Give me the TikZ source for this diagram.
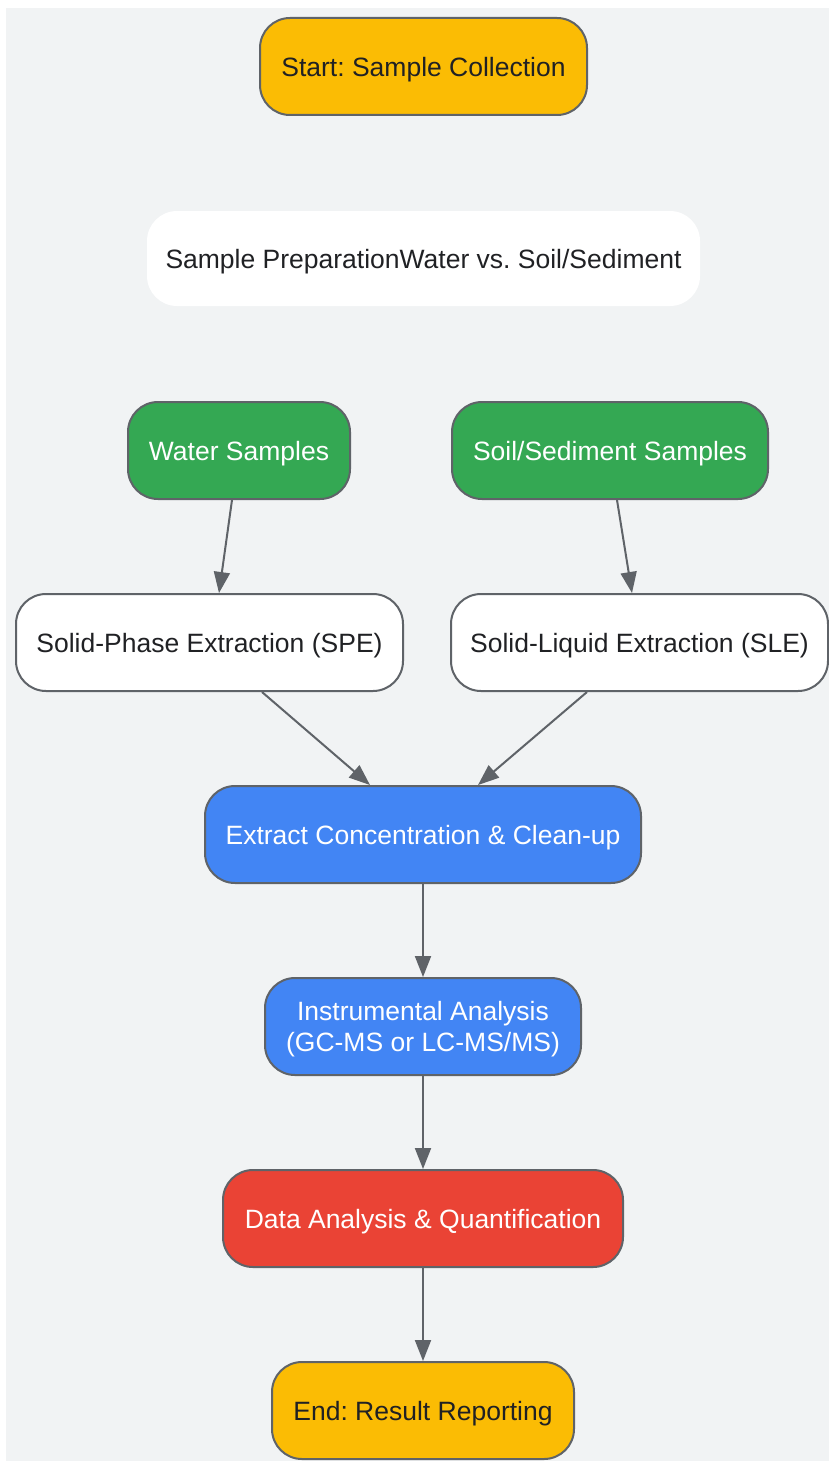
\documentclass[tikz,border=0pt]{standalone}
\usepackage{fontspec}
\setmainfont{Liberation Sans}
\usetikzlibrary{arrows.meta}
\definecolor{bgc}{HTML}{F1F3F4}
\definecolor{edgec}{HTML}{5F6368}
\definecolor{txtc}{HTML}{202124}
\definecolor{yel}{HTML}{FBBC04}
\definecolor{grn}{HTML}{34A853}
\definecolor{blu}{HTML}{4285F4}
\definecolor{redc}{HTML}{EA4335}
\frenchspacing
\tikzset{
  box/.style={rectangle, rounded corners=30pt, draw=edgec, line width=2pt, inner sep=0pt,
    minimum height=97pt, align=center, font=\fontsize{26.5}{31}\selectfont, text=txtc,
    text depth=0pt},
  startend/.style={box, fill=yel},
  plainbox/.style={box, fill=white},
  greenbox/.style={box, fill=grn, text=white},
  bluebox/.style={box, fill=blu, text=white},
  redbox/.style={box, fill=redc, text=white},
  conn/.style={draw=edgec, line width=2pt, -{Triangle[length=21pt,width=16pt]}}
}
\begin{document}
\begin{tikzpicture}[x=1pt,y=-1pt]
\useasboundingbox (0,0) rectangle (829,1461);
\fill[bgc] (6,8) rectangle (829,1461);
\node[startend, minimum width=327pt] (start) at (423.5,66.5) {Start: Sample Collection};
\node[plainbox, draw=none, minimum width=553pt, minimum height=95pt] (prep) at (423.5,258.5) {Sample PreparationWater vs. Soil/Sediment};
\node[greenbox, minimum width=222pt] (water) at (239,450.5) {Water Samples};
\node[greenbox, minimum width=316pt] (soil) at (610,450.5) {Soil/Sediment Samples};
\node[plainbox, minimum width=387pt] (spe) at (209.5,642.5) {Solid-Phase Extraction (SPE)};
\node[plainbox, minimum width=377pt] (sle) at (639.5,642.5) {Solid-Liquid Extraction (SLE)};
\node[bluebox, minimum width=436pt] (extract) at (423,834.5) {Extract Concentration \& Clean-up};
\node[bluebox, minimum width=316pt] (instr) at (423,1026.5) {Instrumental Analysis\\(GC-MS or LC-MS/MS)};
\node[redbox, minimum width=400pt] (data) at (423,1218.5) {Data Analysis \& Quantification};
\node[startend, minimum width=302pt] (end) at (423,1410.5) {End: Result Reporting};
\draw[conn] ([xshift=-7pt]water.south) -- ([xshift=9.5pt]spe.north);
\draw[conn] ([xshift=7pt]soil.south) -- ([xshift=-7.5pt]sle.north);
\draw[conn] ([xshift=52.5pt]spe.south) -- ([xshift=-53pt]extract.north);
\draw[conn] ([xshift=-52.5pt]sle.south) -- ([xshift=55pt]extract.north);
\draw[conn] (extract) -- (instr);
\draw[conn] (instr) -- (data);
\draw[conn] (data) -- (end);
\end{tikzpicture}
\end{document}
